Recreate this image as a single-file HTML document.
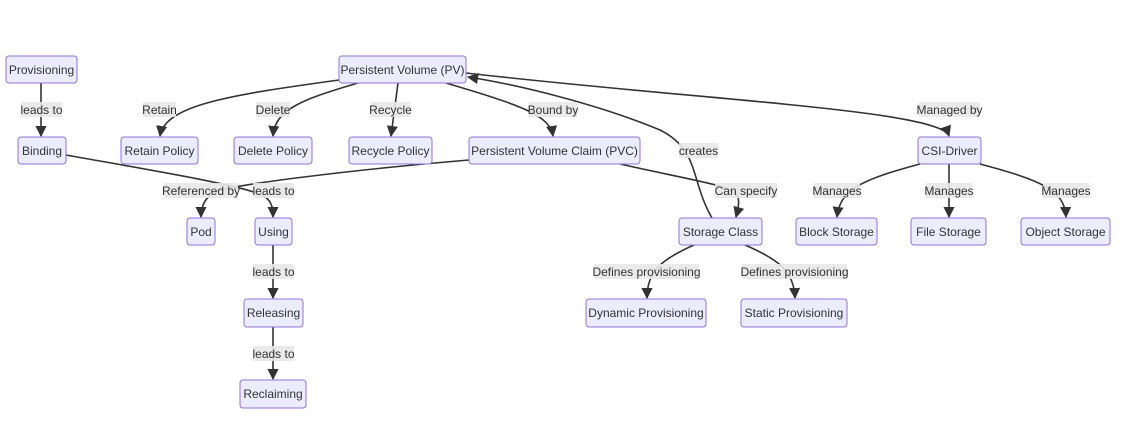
<!DOCTYPE html>
<html><head><meta charset="utf-8"><style>
body{margin:0;background:#fff}
svg{display:block}
text{font-family:"Liberation Sans",sans-serif;font-size:12px;fill:#333;text-anchor:middle;dominant-baseline:central}
.n{fill:#ECECFF;stroke:#9370DB;stroke-width:1}
.e{fill:none;stroke:#333;stroke-width:1.6}
.l{fill:#e8e8e8;opacity:.9}
</style></head><body>
<svg width="1121" height="439" viewBox="0 0 1121 439">
<defs><marker id="a" viewBox="0 0 10 10" refX="9" refY="5" markerWidth="7" markerHeight="7" orient="auto"><path d="M0,0L10,5L0,10z" fill="#333"/></marker></defs>
<g>
<path class="e" marker-end="url(#a)" d="M41,83V136"/>
<path class="e" marker-end="url(#a)" d="M339,80C230,95 165,105 160,136"/>
<path class="e" marker-end="url(#a)" d="M358,83C300,100 275,110 273,136"/>
<path class="e" marker-end="url(#a)" d="M398,83L391,136"/>
<path class="e" marker-end="url(#a)" d="M446,83C520,105 550,115 553,136"/>
<path class="e" marker-end="url(#a)" d="M466,73C700,100 940,110 949,136"/>
<path class="e" marker-end="url(#a)" d="M712,218C690,180 700,150 660,130C600,105 520,85 468,77"/>
<path class="e" marker-end="url(#a)" d="M66,155C150,170 240,185 262,195C272,200 273,208 273,217"/>
<path class="e" marker-end="url(#a)" d="M469,160C350,170 230,185 215,192C204,198 201,208 201,217"/>
<path class="e" marker-end="url(#a)" d="M620,164C690,180 730,185 737,195C740,200 738,210 736,217"/>
<path class="e" marker-end="url(#a)" d="M920,164C860,180 840,190 837,217"/>
<path class="e" marker-end="url(#a)" d="M949,164V217"/>
<path class="e" marker-end="url(#a)" d="M980,164C1040,180 1065,190 1066,217"/>
<path class="e" marker-end="url(#a)" d="M694,245C660,260 647,272 647,298"/>
<path class="e" marker-end="url(#a)" d="M745,245C780,260 794,272 795,298"/>
<path class="e" marker-end="url(#a)" d="M273,245V298"/>
<path class="e" marker-end="url(#a)" d="M273,327V379"/>
</g>
<g>
<rect class="n" x="6" y="56" width="71" height="27" rx="3"/><text x="41.5" y="70">Provisioning</text>
<rect class="n" x="339" y="56" width="127" height="27" rx="3"/><text x="402.5" y="70">Persistent Volume (PV)</text>
<rect class="n" x="18" y="137" width="48" height="27" rx="3"/><text x="42" y="151">Binding</text>
<rect class="n" x="121" y="137" width="77" height="27" rx="3"/><text x="159.5" y="151">Retain Policy</text>
<rect class="n" x="234" y="137" width="78" height="27" rx="3"/><text x="273" y="151">Delete Policy</text>
<rect class="n" x="349" y="137" width="83" height="27" rx="3"/><text x="390.5" y="151">Recycle Policy</text>
<rect class="n" x="469" y="137" width="171" height="27" rx="3"/><text x="554.5" y="151">Persistent Volume Claim (PVC)</text>
<rect class="n" x="918" y="137" width="63" height="27" rx="3"/><text x="949.5" y="151">CSI-Driver</text>
<rect class="n" x="187" y="218" width="28" height="27" rx="3"/><text x="201" y="232">Pod</text>
<rect class="n" x="255" y="218" width="37" height="27" rx="3"/><text x="273.5" y="232">Using</text>
<rect class="n" x="679" y="218" width="83" height="27" rx="3"/><text x="720.5" y="232">Storage Class</text>
<rect class="n" x="796" y="218" width="81" height="27" rx="3"/><text x="836.5" y="232">Block Storage</text>
<rect class="n" x="911" y="218" width="75" height="27" rx="3"/><text x="948.5" y="232">File Storage</text>
<rect class="n" x="1021" y="218" width="89" height="27" rx="3"/><text x="1065.5" y="232">Object Storage</text>
<rect class="n" x="244" y="299" width="59" height="28" rx="3"/><text x="273.5" y="313">Releasing</text>
<rect class="n" x="586" y="299" width="120" height="28" rx="3"/><text x="646" y="313">Dynamic Provisioning</text>
<rect class="n" x="741" y="299" width="106" height="28" rx="3"/><text x="794" y="313">Static Provisioning</text>
<rect class="n" x="240" y="380" width="66" height="28" rx="3"/><text x="273" y="394">Reclaiming</text>
</g>
<g>
<rect class="l" x="21" y="102" width="41" height="15"/><text x="41.5" y="110">leads to</text>
<rect class="l" x="143" y="102" width="33" height="15"/><text x="159.5" y="110">Retain</text>
<rect class="l" x="256" y="102" width="34" height="15"/><text x="273" y="110">Delete</text>
<rect class="l" x="371" y="102" width="39" height="15"/><text x="390.5" y="110">Recycle</text>
<rect class="l" x="529" y="102" width="48" height="15"/><text x="553" y="110">Bound by</text>
<rect class="l" x="679" y="143" width="39" height="15"/><text x="698.5" y="151">creates</text>
<rect class="l" x="919" y="102" width="61" height="15"/><text x="949.5" y="110">Managed by</text>
<rect class="l" x="164" y="183" width="74" height="15"/><text x="201" y="191">Referenced by</text>
<rect class="l" x="253" y="183" width="41" height="15"/><text x="273.5" y="191">leads to</text>
<rect class="l" x="715" y="183" width="62" height="15"/><text x="746" y="191">Can specify</text>
<rect class="l" x="814" y="183" width="46" height="15"/><text x="837" y="191">Manages</text>
<rect class="l" x="926" y="183" width="46" height="15"/><text x="949" y="191">Manages</text>
<rect class="l" x="1043" y="183" width="46" height="15"/><text x="1066" y="191">Manages</text>
<rect class="l" x="253" y="264" width="41" height="15"/><text x="273.5" y="272">leads to</text>
<rect class="l" x="594" y="264" width="105" height="15"/><text x="646.5" y="272">Defines provisioning</text>
<rect class="l" x="742" y="264" width="105" height="15"/><text x="794.5" y="272">Defines provisioning</text>
<rect class="l" x="253" y="346" width="41" height="15"/><text x="273.5" y="354">leads to</text>
</g>
</svg>
</body></html>
